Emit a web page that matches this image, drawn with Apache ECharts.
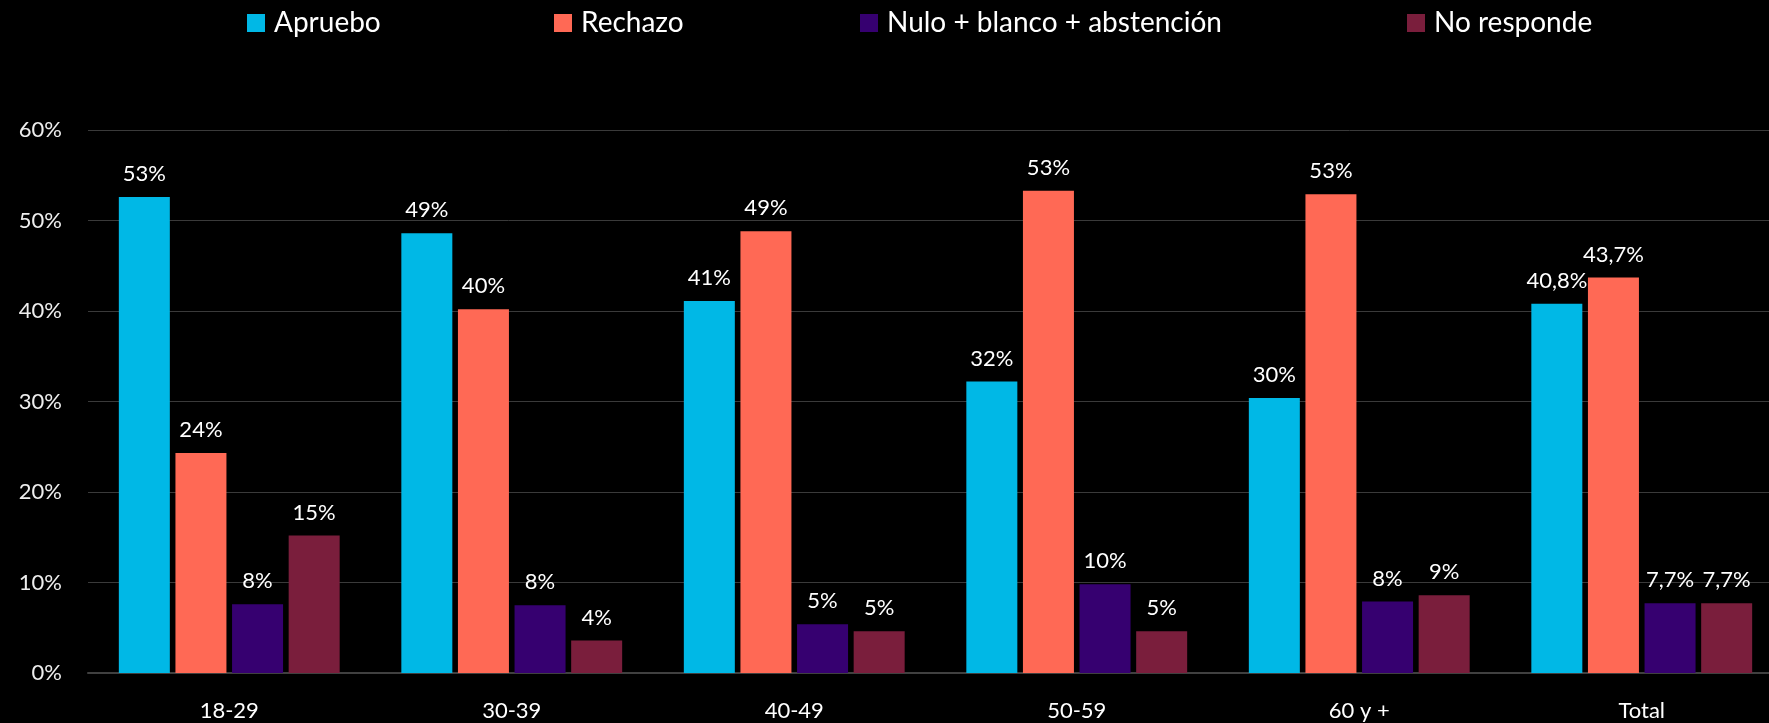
<!DOCTYPE html>
<html>
<head>
<meta charset="utf-8">
<script src="https://cdn.jsdelivr.net/npm/echarts@6/dist/echarts.min.js"></script>
<style>
  html, body { margin: 0; padding: 0; background: #000; }
  #chart { width: 1769px; height: 723px; }
</style>
</head>
<body>
<div id="chart"></div>
<script>
const categories = ["18-29", "30-39", "40-49", "50-59", "60 y +", "Total"];
const apruebo = [52.6, 48.6, 41.1, 32.2, 30.4, 40.8];
const rechazo = [24.3, 40.2, 48.8, 53.3, 52.9, 43.7];
const nulo = [7.6, 7.5, 5.4, 9.8, 7.9, 7.7];
const noResponde = [15.2, 3.6, 4.6, 4.6, 8.6, 7.7];
const yTicks = [0, 10, 20, 30, 40, 50, 60];

const font = "Lato";
let chart = echarts.init(document.getElementById("chart"));

// etiquetas: enteros por grupo, un decimal con coma en Total
function fmt(p) {
  if (p.name === "Total") return p.value.toFixed(1).replace(".", ",") + "%";
  return Math.round(p.value) + "%";
}

function serie(name, data, color) {
  return {
    name: name,
    type: "bar",
    data: data,
    barWidth: 51,
    barGap: "11%",
    itemStyle: { color: color },
    label: {
      show: true,
      position: "top",
      distance: 12,
      color: "#fff",
      fontFamily: font,
      fontSize: 22,
      formatter: fmt,
    },
  };
}

const names = ["Apruebo", "Rechazo", "Nulo + blanco + abstención", "No responde"];
// una leyenda por serie, con la casilla donde cae en el original
const legendLeft = [247, 554, 860, 1407];

let option = {
  backgroundColor: "#000",
  animation: false,
  legend: names.map((n, i) => ({
    data: [n],
    left: legendLeft[i],
    top: 9,
    padding: 0,
    itemWidth: 18,
    itemHeight: 18,
    icon: "rect",
    textStyle: {
      color: "#fff",
      fontFamily: font,
      fontSize: 28,
      padding: [0, 0, 0, 4],
    },
  })),
  grid: {
    left: 88,
    width: 1695,
    top: 130,
    bottom: 50,
    containLabel: false,
    outerBoundsMode: "none",
  },
  xAxis: {
    type: "category",
    data: categories,
    axisTick: { show: false },
    axisLine: { lineStyle: { color: "#404040", width: 2 } },
    axisLabel: {
      color: "#fff",
      fontFamily: font,
      fontSize: 22,
      margin: 27,
    },
  },
  yAxis: {
    type: "value",
    min: yTicks[0],
    max: yTicks[yTicks.length - 1],
    interval: 10,
    axisLine: { show: false },
    axisTick: { show: false },
    splitLine: { lineStyle: { color: "#3a3a3a", width: 1 } },
    axisLabel: {
      color: "#eee",
      fontFamily: font,
      fontSize: 22,
      margin: 26,
      formatter: "{value}%",
    },
  },
  series: [
    serie(names[0], apruebo, "#00b8e6"),
    serie(names[1], rechazo, "#ff6955"),
    serie(names[2], nulo, "#360070"),
    serie(names[3], noResponde, "#7a1e3c"),
  ],
};
chart.setOption(option);
</script>
</body>
</html>
